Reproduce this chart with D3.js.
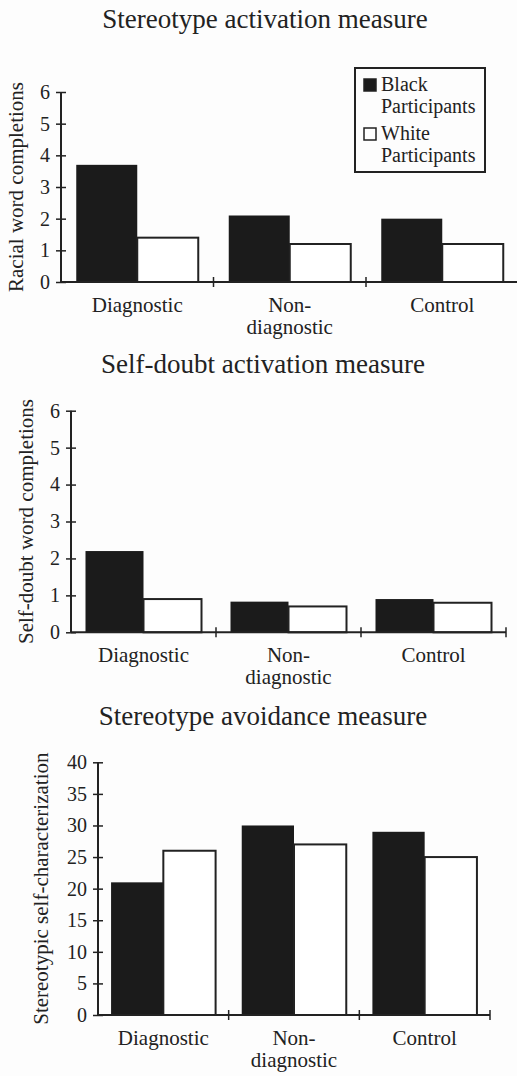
<!DOCTYPE html>
<html>
<head>
<meta charset="utf-8">
<script src="https://cdn.jsdelivr.net/npm/d3@7"></script>
<style>
  body { margin: 0; background: #fdfdfd; }
</style>
</head>
<body>
<div id="chart"></div>
<script>
// Data
let categories = ['Diagnostic', 'Non-diagnostic', 'Control']
let categoryLines = [['Diagnostic'], ['Non-', 'diagnostic'], ['Control']]
let series = ['Black Participants', 'White Participants']

let activationBlack = [3.7, 2.1, 2.0]
let activationWhite = [1.4, 1.2, 1.2]
let activationTicks = [0, 1, 2, 3, 4, 5, 6]

let selfDoubtBlack = [2.2, 0.83, 0.9]
let selfDoubtWhite = [0.9, 0.7, 0.8]
let selfDoubtTicks = [0, 1, 2, 3, 4, 5, 6]

let avoidanceBlack = [21, 30, 29]
let avoidanceWhite = [26, 27, 25]
let avoidanceTicks = [0, 5, 10, 15, 20, 25, 30, 35, 40]

// Basic variables
var fig = {
  width: 517,
  height: 1076,
  font: '"Liberation Serif", "Times New Roman", serif',
  ink: '#222'
}

fig.canvas = d3.select('#chart')
  .append('svg')
  .attr('width', fig.width)
  .attr('height', fig.height)

let fills = { 'Black Participants': '#1b1b1b', 'White Participants': '#ffffff' }

let panels = [
  {
    title: 'Stereotype activation measure', titleX: 265, titleY: 28,
    yLabel: 'Racial word completions', yLabelX: 23,
    left: 61, right: 518.5, top: 92, bottom: 282,
    ticks: activationTicks, black: activationBlack, white: activationWhite, legend: true
  },
  {
    title: 'Self-doubt activation measure', titleX: 263, titleY: 372.7,
    yLabel: 'Self-doubt word completions', yLabelX: 33,
    left: 71, right: 506, top: 410.7, bottom: 632.3,
    ticks: selfDoubtTicks, black: selfDoubtBlack, white: selfDoubtWhite, legend: false
  },
  {
    title: 'Stereotype avoidance measure', titleX: 263, titleY: 725,
    yLabel: 'Stereotypic self-characterization', yLabelX: 48,
    left: 98, right: 490, top: 762.3, bottom: 1015,
    ticks: avoidanceTicks, black: avoidanceBlack, white: avoidanceWhite, legend: false
  }
]

// every text gets the serif font inline
function styleText(sel, size) {
  return sel
    .style('font-family', fig.font)
    .style('font-size', size + 'px')
    .style('fill', fig.ink)
}

function drawPanel(p) {
  let g = fig.canvas.append('g')

  let x0 = d3.scaleBand()
    .domain(categories)
    .range([p.left, p.right])
    .paddingInner(0)
    .paddingOuter(0)

  let x1 = d3.scaleBand()
    .domain(series)
    .range([0, x0.bandwidth()])
    .paddingInner(0)
    .paddingOuter(0.25)

  let y = d3.scaleLinear()
    .domain([0, d3.max(p.ticks)])
    .range([p.bottom, p.top])

  // title
  g.append('text')
    .attr('x', p.titleX)
    .attr('y', p.titleY)
    .attr('text-anchor', 'middle')
    .call(styleText, 27)
    .text(p.title)

  // bars
  let rows = categories.map((c, i) => ({
    category: c,
    values: [
      { key: series[0], value: p.black[i] },
      { key: series[1], value: p.white[i] }
    ]
  }))

  g.selectAll('g.group')
    .data(rows)
    .enter()
    .append('g')
    .attr('class', 'group')
    .attr('transform', d => `translate(${x0(d.category)},0)`)
    .selectAll('rect')
    .data(d => d.values)
    .enter()
    .append('rect')
    .attr('x', d => x1(d.key))
    .attr('y', d => y(d.value))
    .attr('width', x1.bandwidth())
    .attr('height', d => y(0) - y(d.value))
    .attr('fill', d => fills[d.key])
    .attr('stroke', d => d.key === series[1] ? fig.ink : 'none')
    .attr('stroke-width', 2)

  // y axis, ticks cross the line
  let yAxis = g.append('g')
    .attr('transform', `translate(${p.left},0)`)
    .call(d3.axisLeft(y).tickValues(p.ticks).tickFormat(d3.format('d')).tickSize(5).tickPadding(6))
  yAxis.select('.domain').remove()
  yAxis.append('line')
    .attr('y1', y(d3.max(p.ticks)))
    .attr('y2', y(0))
    .attr('stroke', fig.ink)
    .attr('stroke-width', 2)
  yAxis.selectAll('.tick line')
    .attr('x1', 5)
    .attr('stroke', fig.ink)
    .attr('stroke-width', 1.5)
  yAxis.selectAll('.tick text')
    .call(styleText, 20)

  // x axis, ticks at category boundaries
  let bounds = categories.map(c => x0(c) + x0.bandwidth())
  g.append('line')
    .attr('x1', p.left)
    .attr('x2', p.right)
    .attr('y1', y(0))
    .attr('y2', y(0))
    .attr('stroke', fig.ink)
    .attr('stroke-width', 2)
  g.selectAll('line.xtick')
    .data(bounds)
    .enter()
    .append('line')
    .attr('class', 'xtick')
    .attr('x1', d => d)
    .attr('x2', d => d)
    .attr('y1', y(0) - 5)
    .attr('y2', y(0) + 5)
    .attr('stroke', fig.ink)
    .attr('stroke-width', 1.5)

  // category labels, one text per line
  categories.forEach((c, i) => {
    g.selectAll(null)
      .data(categoryLines[i])
      .enter()
      .append('text')
      .attr('x', x0(c) + x0.bandwidth() / 2)
      .attr('y', (d, j) => y(0) + 30 + j * 22)
      .attr('text-anchor', 'middle')
      .call(styleText, 21)
      .text(d => d)
  })

  // y label
  g.append('text')
    .attr('transform', `translate(${p.yLabelX},${(y(0) + y(d3.max(p.ticks))) / 2}) rotate(-90)`)
    .attr('text-anchor', 'middle')
    .call(styleText, 21)
    .text(p.yLabel)

  if (p.legend) {
    let lg = g.append('g')
    lg.append('rect')
      .attr('x', 355)
      .attr('y', 68)
      .attr('width', 130)
      .attr('height', 104)
      .attr('fill', 'none')
      .attr('stroke', fig.ink)
      .attr('stroke-width', 2)
    let items = lg.selectAll('g.item')
      .data(series)
      .enter()
      .append('g')
      .attr('class', 'item')
      .attr('transform', (d, i) => `translate(364,${79 + i * 49})`)
    items.append('rect')
      .attr('width', 12)
      .attr('height', 12)
      .attr('fill', d => fills[d])
      .attr('stroke', fig.ink)
      .attr('stroke-width', 1.5)
    items.append('text')
      .attr('x', 17)
      .attr('y', 12)
      .call(styleText, 20)
      .text(d => d.split(' ')[0])
    items.append('text')
      .attr('x', 17)
      .attr('y', 34)
      .call(styleText, 20)
      .text(d => d.split(' ')[1])
  }
}

panels.forEach(drawPanel)
</script>
</body>
</html>
